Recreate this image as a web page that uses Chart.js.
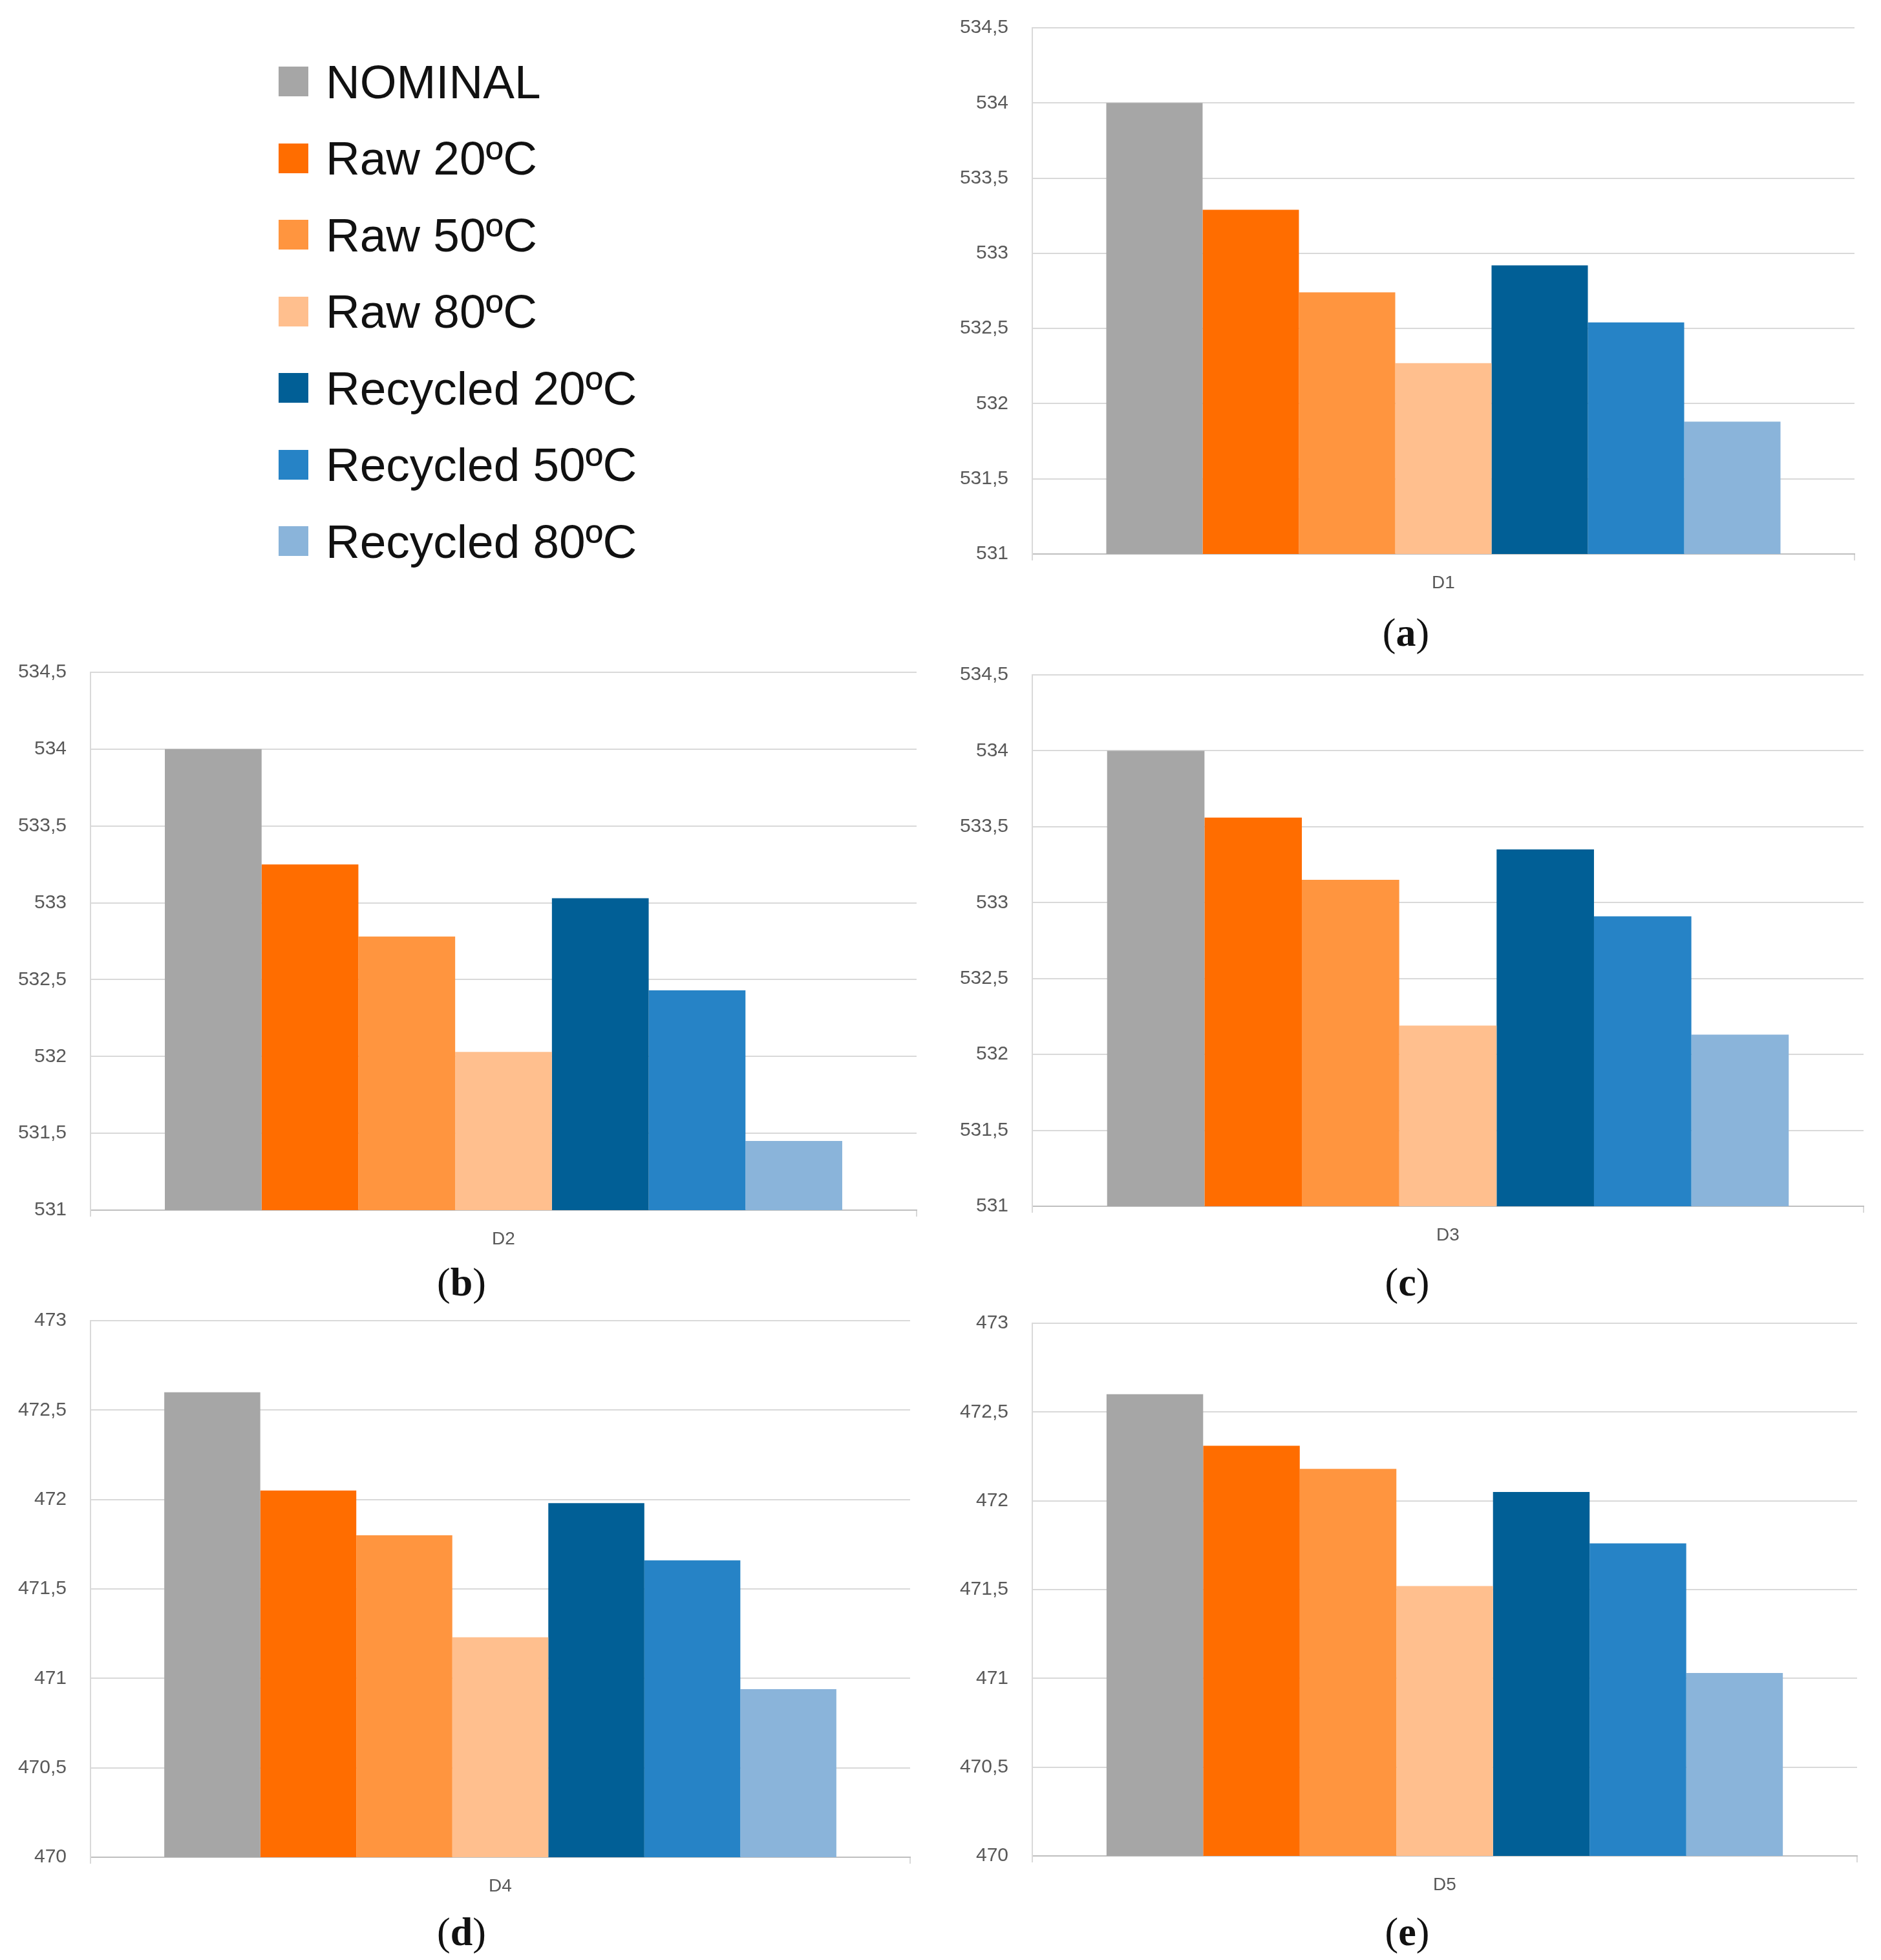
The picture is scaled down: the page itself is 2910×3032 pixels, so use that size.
<!DOCTYPE html>
<html>
<head>
<meta charset="utf-8">
<script src="https://cdn.jsdelivr.net/npm/chart.js@4"></script>
<style>
  html, body { margin: 0; padding: 0; background: #fff; }
  body { position: relative; width: 2910px; height: 3032px; overflow: hidden; }
  canvas { position: absolute; }
  .legend-row { position: absolute; left: 431px; height: 60px; display: flex; align-items: center;
    font-family: 'Liberation Sans', Arial, sans-serif; font-size: 73px; color: #111; white-space: nowrap; }
  .legend-box { width: 46px; height: 46px; margin-right: 27px; }
  .panel-tag { position: absolute; font-family: 'Liberation Serif', 'DejaVu Serif', serif; font-size: 62px;
    color: #111; transform: translate(-50%, -50%); white-space: nowrap; }
  .panel-tag b { font-weight: bold; }
</style>
</head>
<body>
<script>
"use strict";

// categories (one per panel)
const categories = ["D1", "D2", "D3", "D4", "D5"];
const panelTags = ["a", "b", "c", "d", "e"];

// series names and colours
const seriesNames = ["NOMINAL", "Raw 20ºC", "Raw 50ºC", "Raw 80ºC", "Recycled 20ºC", "Recycled 50ºC", "Recycled 80ºC"];
const seriesColors = ["#A6A6A6", "#FF6D00", "#FF953F", "#FFBF8E", "#015F96", "#2683C6", "#8AB4DA"];

// values, one entry per category D1..D5
const nominal = [534.00, 534.00, 534.00, 472.60, 472.60];
const raw20   = [533.29, 533.25, 533.56, 472.05, 472.31];
const raw50   = [532.74, 532.78, 533.15, 471.80, 472.18];
const raw80   = [532.27, 532.03, 532.19, 471.23, 471.52];
const rec20   = [532.92, 533.03, 533.35, 471.98, 472.05];
const rec50   = [532.54, 532.43, 532.91, 471.66, 471.76];
const rec80   = [531.88, 531.45, 532.13, 470.94, 471.03];

// y axis ranges per panel
const yMin = [531, 531, 531, 470, 470];
const yMax = [534.5, 534.5, 534.5, 473, 473];
const yStep = 0.5;

const seriesValues = [nominal, raw20, raw50, raw80, rec20, rec50, rec80];

// plot area of each panel on the page (left, right, top, bottom) and tag position
const panelBoxes = [
  { l: 1597, r: 2877, t: 43,   b: 857,  tagX: 2175, tagY: 978 },
  { l: 140,  r: 1426, t: 1040, b: 1872, tagX: 714,  tagY: 1983 },
  { l: 1597, r: 2891, t: 1044, b: 1866, tagX: 2177, tagY: 1983 },
  { l: 140,  r: 1416, t: 2043, b: 2873, tagX: 714,  tagY: 2988 },
  { l: 1597, r: 2881, t: 2047, b: 2871, tagX: 2177, tagY: 2988 }
];

const Y_AXIS_W = 130;
const X_AXIS_H = 80;
const PAD_RIGHT = 15;

function fmtTick(v) {
  return String(Number(v.toFixed(1))).replace(".", ",");
}

// legend (top left)
function buildLegend() {
  seriesNames.forEach((name, i) => {
    const row = document.createElement("div");
    row.className = "legend-row";
    row.style.top = (126 + i * 118.5 - 30) + "px";
    const box = document.createElement("div");
    box.className = "legend-box";
    box.style.background = seriesColors[i];
    const txt = document.createElement("span");
    txt.textContent = name;
    row.appendChild(box);
    row.appendChild(txt);
    document.body.appendChild(row);
  });
}

function buildPanel(idx) {
  const box = panelBoxes[idx];
  const cv = document.createElement("canvas");
  const left = box.l - Y_AXIS_W;
  const w = box.r - left + PAD_RIGHT;
  let h = box.b - box.t + X_AXIS_H + 60;
  cv.width = w;
  cv.height = h;
  cv.style.left = left + "px";
  cv.style.width = w + "px";
  cv.style.height = h + "px";
  document.body.appendChild(cv);

  const datasets = seriesNames.map((name, i) => ({
    label: name,
    data: [seriesValues[i][idx]],
    backgroundColor: seriesColors[i],
    borderWidth: 0,
    categoryPercentage: 0.82,
    barPercentage: 1.0
  }));

  const chart = new Chart(cv, {
    type: "bar",
    data: { labels: [categories[idx]], datasets: datasets },
    options: {
      responsive: false,
      animation: false,
      devicePixelRatio: 1,
      layout: { padding: { top: 0, right: PAD_RIGHT, left: 0, bottom: 0 } },
      plugins: { legend: { display: false }, tooltip: { enabled: false } },
      scales: {
        x: {
          grid: { drawOnChartArea: false, drawTicks: true, tickLength: 10, color: "#D9D9D9", lineWidth: 2 },
          border: { display: true, color: "#BFBFBF", width: 2 },
          ticks: { padding: 18, color: "#595959", font: { family: "'Liberation Sans', Arial, sans-serif", size: 28 } },
          afterFit: s => { s.height = X_AXIS_H; }
        },
        y: {
          min: yMin[idx],
          max: yMax[idx],
          grid: { color: "#D9D9D9", lineWidth: 2, drawTicks: false },
          border: { display: true, color: "#D9D9D9", width: 2 },
          ticks: {
            stepSize: yStep,
            padding: 37,
            color: "#595959",
            font: { family: "'Liberation Sans', Arial, sans-serif", size: 30 },
            callback: v => fmtTick(v)
          },
          afterFit: s => { s.width = Y_AXIS_W; }
        }
      }
    }
  });

  // place the canvas so that the plot area lands on the panel box
  const topOff = chart.chartArea.top;
  h = topOff + (box.b - box.t) + X_AXIS_H;
  cv.style.top = (box.t - topOff) + "px";
  cv.style.height = h + "px";
  chart.resize(w, h);

  const tag = document.createElement("div");
  tag.className = "panel-tag";
  tag.style.left = box.tagX + "px";
  tag.style.top = box.tagY + "px";
  tag.innerHTML = "(<b>" + panelTags[idx] + "</b>)";
  document.body.appendChild(tag);
}

buildLegend();
categories.forEach((c, i) => buildPanel(i));
</script>
</body>
</html>
